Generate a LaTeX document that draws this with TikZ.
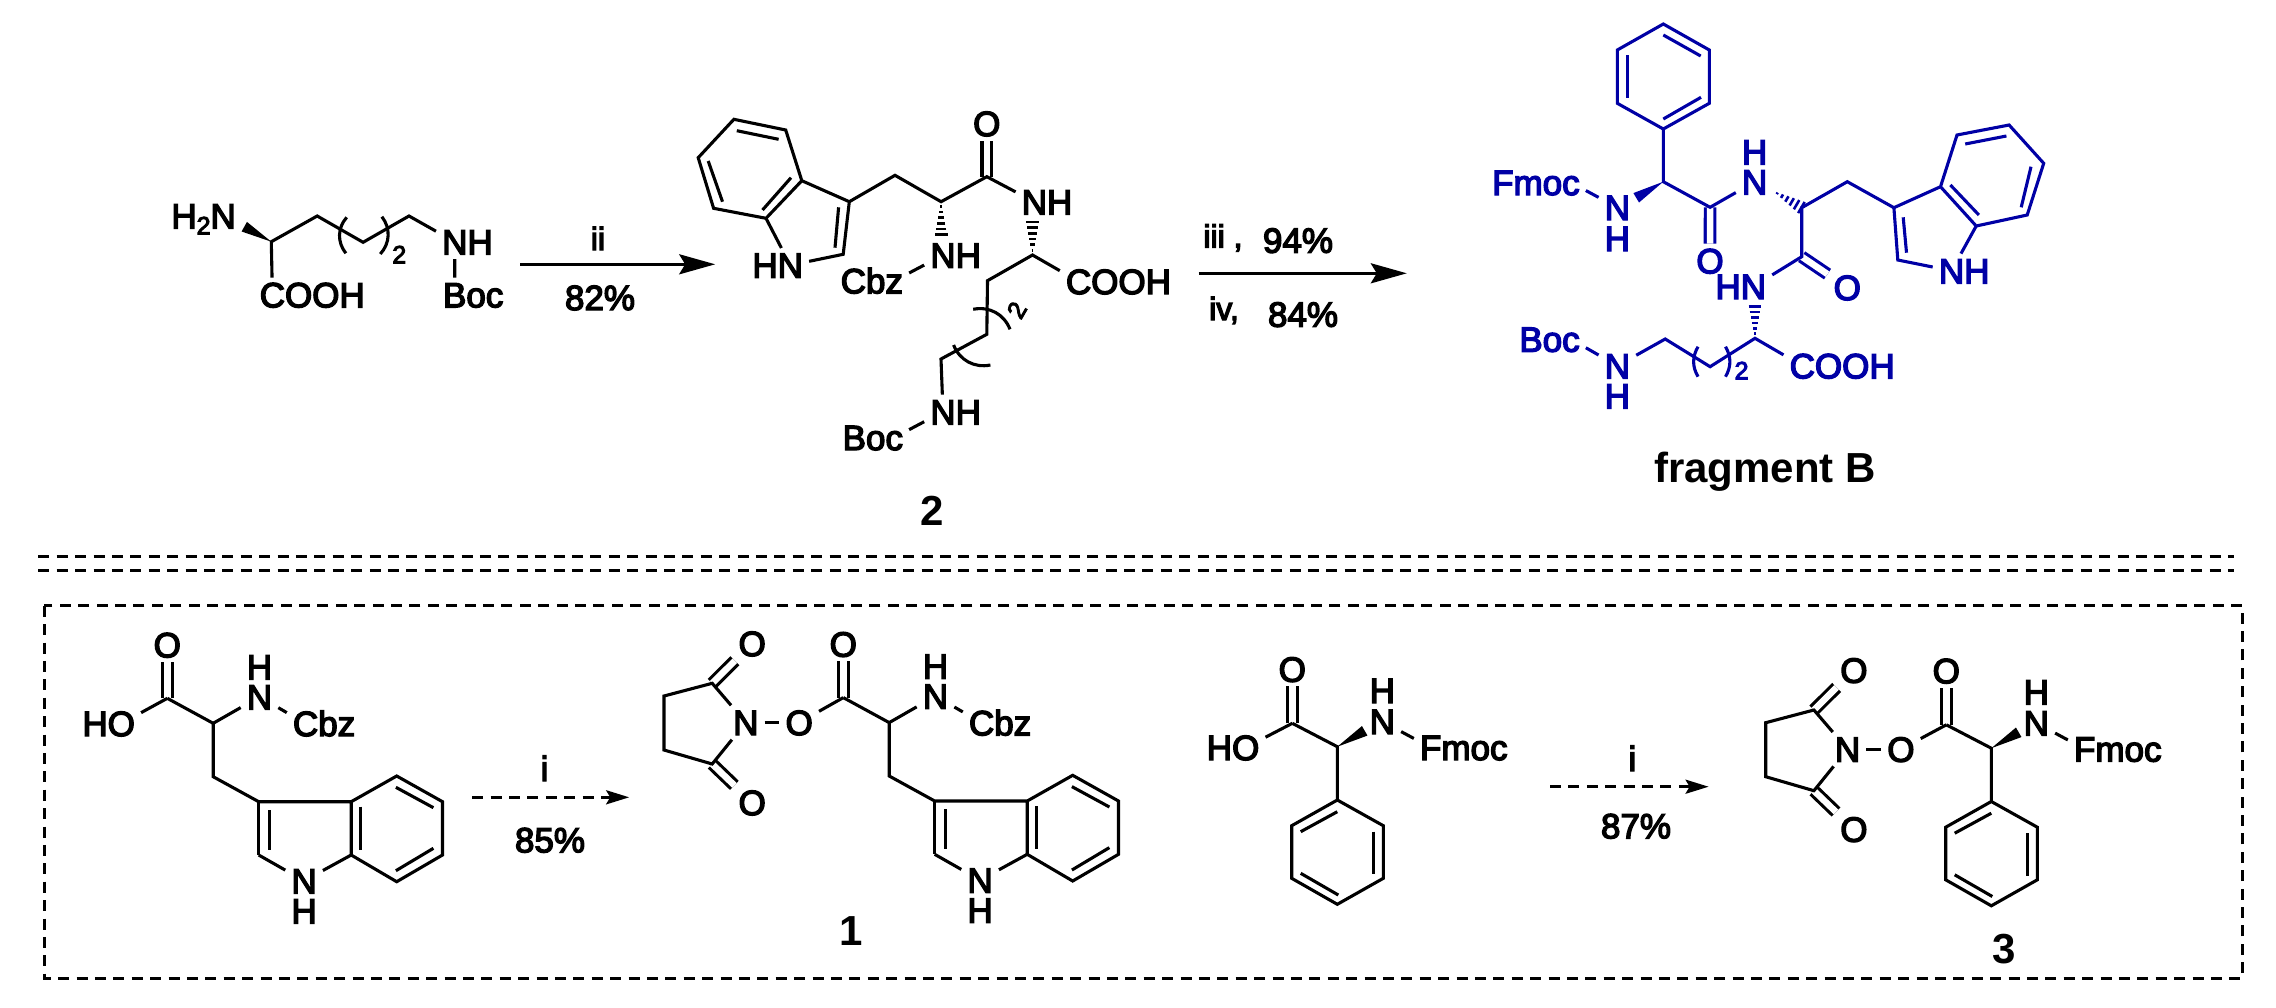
\documentclass[tikz,border=0pt]{standalone}
\usepackage{fontspec}
\setmainfont{Liberation Sans}[UprightFeatures={FakeBold=4}]
\usetikzlibrary{calc,arrows.meta}

\definecolor{fragblue}{RGB}{0,0,165}
\newcommand{\atomfont}{\fontsize{35pt}{40pt}\selectfont}
\newcommand{\reagfont}{\fontsize{32pt}{38pt}\selectfont}
\newcommand{\smallfont}{\fontsize{25pt}{30pt}\selectfont}
\newcommand{\tagfont}{\fontsize{42pt}{48pt}\selectfont\bfseries}
% N with its H stacked above or below
\newcommand{\NHup}[1]{N\llap{\raisebox{#1}{H}}}
\newcommand{\NHdown}[1]{N\llap{\raisebox{-#1}{H}}}

% filled and hashed stereo bonds: narrow end first
\newcommand{\wedgebond}[2]{\fill (#1) -- ($(#2)!5.5pt!90:(#1)$) -- ($(#2)!5.5pt!-90:(#1)$) -- cycle;}
\newcommand{\hashbond}[2]{\foreach \t in {.14,.31,.48,.65,.82,.99}{
    \draw[line width=2.6pt] ($($(#1)!\t!(#2)$)!{\t*6.5pt}!90:(#2)$) -- ($($(#1)!\t!(#2)$)!{\t*6.5pt}!-90:(#2)$);}}

\tikzset{
    bond/.style={line width=3.1pt},
    dbl/.style={line width=3.1pt,double,double distance=6.5pt},
    atom/.style={font=\atomfont,inner xsep=6pt,inner ysep=4.5pt,text height=25pt,text depth=0pt},
    lbl/.style={anchor=base,inner sep=0pt,font=\atomfont},
    reag/.style={anchor=base,inner sep=0pt,font=\reagfont},
    sub/.style={anchor=base,inner sep=0pt,font=\smallfont},
    tag/.style={anchor=base,inner sep=0pt,font=\tagfont},
    rxn/.style={line width=3pt,-{Stealth[length=36pt,width=20pt,inset=6pt]}},
    rxndash/.style={line width=3pt,dash pattern=on 11pt off 7.4pt,-{Stealth[length=23pt,width=14pt,inset=4pt]}},
    sepline/.style={line width=3pt,dash pattern=on 11pt off 7.4pt},
    % Cbz-Trp without its OH
    pics/trpcbz/.style={code={
        \foreach \n/\p in {a/{167.3,698.3},b/{213.2,723.3},c/{213.2,776.7},d/{258.7,801.7},e/{351.2,801.7},
            f/{396.7,776},g/{442.5,801.7},h/{442.5,855},i/{396.7,881.7},j/{351.2,855},k/{258.7,855},
            p1/{269.3,810},p2/{269.3,850},q1/{360.3,806.7},q2/{360.3,850},
            r1/{395.9,787.3},r2/{433.4,807.7},s1/{433.4,848.3},s2/{395.9,870.7}}
            \coordinate (-\n) at (\p);
        \node[atom] (-O) at (167.3,644.8) {O};
        \node[atom] (-Na) at (259.5,696.8) {\NHup{30pt}};
        \node[atom] (-Cbz) at (305.6,723.5) {C\rlap{bz}};
        \node[atom] (-Nb) at (304.1,880.8) {\NHdown{30pt}};
        \draw[dbl] (-a) -- (-O);
        \draw[bond] (-a) -- (-b) -- (-c) -- (-d) -- (-e) -- (-f) -- (-g) -- (-h) -- (-i) -- (-j) -- (-e);
        \draw[bond] (-d) -- (-k);
        \draw[bond] (-k) -- (-Nb);
        \draw[bond] (-j) -- (-Nb);
        \draw[bond] (-b) -- (-Na);
        \draw[bond] (-Na) -- (-Cbz);
        \draw[bond] (-p1) -- (-p2);
        \draw[bond] (-q1) -- (-q2);
        \draw[bond] (-r1) -- (-r2);
        \draw[bond] (-s1) -- (-s2);
    }},
    % Fmoc-phenylglycine without its OH
    pics/fmocpg/.style={code={
        \foreach \n/\p in {a/{1292.3,723.3},b/{1337.3,746.7},c/{1337.3,800},d/{1383.3,825.7},e/{1383.3,878.3},
            f/{1337.3,904.3},g/{1291.7,878.3},h/{1291.7,825.7},w/{1364.7,730.8},
            p1/{1337.3,811.7},p2/{1300.7,831.7},q1/{1373.3,831.7},q2/{1373.3,874},r1/{1300.7,873.3},r2/{1338.3,895}}
            \coordinate (-\n) at (\p);
        \node[atom] (-O) at (1292.3,669.2) {O};
        \node[atom] (-N) at (1382.3,721.5) {\NHup{31pt}};
        \node[atom] (-Fmoc) at (1430.7,747.5) {F\rlap{moc}};
        \draw[dbl] (-a) -- (-O);
        \draw[bond] (-a) -- (-b) -- (-c) -- (-d) -- (-e) -- (-f) -- (-g) -- (-h) -- (-c);
        \wedgebond{-b}{-w}
        \draw[bond] (-N) -- (-Fmoc);
        \draw[bond] (-p1) -- (-p2);
        \draw[bond] (-q1) -- (-q2);
        \draw[bond] (-r1) -- (-r2);
    }},
    % N-oxysuccinimide
    pics/succ/.style={code={
        \foreach \n/\p in {a/{712.2,683.3},b/{664,696},c/{664,750},d/{712.2,764}}
            \coordinate (-\n) at (\p);
        \node[atom] (-N) at (745.8,722.5) {N};
        \node[atom] (-O) at (799.2,722.5) {O};
        \node[atom] (-Oa) at (752.2,643.5) {O};
        \node[atom] (-Ob) at (752.2,802.5) {O};
        \draw[dbl] (-a) -- (-Oa);
        \draw[dbl] (-d) -- (-Ob);
        \draw[bond] (-N) -- (-a) -- (-b) -- (-c) -- (-d) -- (-N);
        \draw[bond] (-N) -- (-O);
    }}
}

\begin{document}
\begin{tikzpicture}[x=1pt,y=-1pt]
    \path[use as bounding box] (0,0) rectangle (2276,1007);

    % starting diamine
    \foreach \n/\p in {ca/{271.3,241.7},cb/{317.2,216},cc/{363.1,242.3},cd/{409,216},we/{244.3,226.7},
        pa/{346.7,217.3},pb/{345.9,253.3},pc/{381.9,216.7},pd/{380.3,254}}
        \coordinate (\n) at (\p);
    \node[atom] (amN) at (223.2,215.8) {\llap{H\raisebox{-6pt}{\smallfont 2}}N};
    \node[atom] (amC) at (272.4,294.8) {C\rlap{OOH}};
    \node[atom] (amNH) at (454.8,241.8) {N\rlap{H}};
    \node[atom] (amB) at (454.7,294.8) {B\rlap{oc}};
    \node[sub] (amtwo) at (399.3,263.3) {2};
    \draw[bond] (amC) -- (ca) -- (cb) -- (cc) -- (cd) -- (amNH);
    \draw[bond] (amNH) -- (amB);
    \wedgebond{ca}{we}
    \draw[bond] (pa) to[bend right=40] (pb);
    \draw[bond] (pc) to[bend left=40] (pd);

    % arrow ii
    \coordinate (ra) at (520,264.3);
    \coordinate (rb) at (715.2,264.3);
    \draw[rxn] (ra) -- (rb);
    \node[reag] (ii) at (598,250) {ii};
    \node[lbl] (yii) at (600,310) {82\%};

    % dipeptide 2
    \foreach \n/\p in {ia/{733.9,119.3},ib/{785.7,130},ic/{801.8,180.7},id/{766,218.3},ie/{713.6,208.3},if/{698.2,157.7},
        ig/{849.3,201.7},ih/{843.2,254.3},ii/{895,175.3},ij/{941.1,201.7},ik/{986.8,176.7},
        il/{1032.5,255},im/{987.5,280.7},in/{986.8,334.3},io/{941,359},
        ha/{941.1,235},hb/{1032.5,221.7},
        sa/{736.8,130.7},sb/{778.6,139.3},sc/{708.2,161},sd/{722.5,201.7},se/{791,177.7},sf/{762.5,210},sg/{838.6,207.3},sh/{835,247.7},
        ua/{973.2,309.3},ub/{1010,329.3},uc/{953.6,345},ud/{990.4,365}}
        \coordinate (\n) at (\p);
    \node[atom] (iN) at (790.3,265.2) {\llap{H}N};
    \node[atom] (dpO) at (986.8,123.5) {O};
    \node[atom] (dpNa) at (1034.4,201.8) {N\rlap{H}};
    \node[atom] (dpNb) at (943,255.2) {N\rlap{H}};
    \node[atom] (dpCbz) at (894.2,280.8) {\llap{Cb}z};
    \node[atom] (dpC) at (1078.6,281.5) {C\rlap{OOH}};
    \node[atom] (dpNc) at (943,411.8) {N\rlap{H}};
    \node[atom] (dpBoc) at (894.2,437.5) {\llap{Bo}c};
    \node[sub,anchor=center,rotate=60] (dptwo) at (1016.7,310) {2};
    \node[tag] (cpdtwo) at (932,525.7) {2};
    \draw[dbl] (ik) -- (dpO);
    \draw[bond] (ia) -- (ib) -- (ic) -- (id) -- (ie) -- (if) -- cycle;
    \draw[bond] (ic) -- (ig) -- (ih) -- (iN);
    \draw[bond] (id) -- (iN);
    \draw[bond] (ig) -- (ii) -- (ij) -- (ik) -- (dpNa);
    \draw[bond] (dpC) -- (il) -- (im) -- (in) -- (io) -- (dpNc);
    \draw[bond] (dpNb) -- (dpCbz);
    \draw[bond] (dpNc) -- (dpBoc);
    \draw[bond] (sa) -- (sb);
    \draw[bond] (sc) -- (sd);
    \draw[bond] (se) -- (sf);
    \draw[bond] (sg) -- (sh);
    \hashbond{ij}{ha}
    \hashbond{il}{hb}
    \draw[bond] (ua) to[bend left=40] (ub);
    \draw[bond] (uc) to[bend right=40] (ud);

    % arrow iii / iv
    \coordinate (rc) at (1198.6,273.3);
    \coordinate (rd) at (1406.8,273.3);
    \draw[rxn] (rc) -- (rd);
    \node[reag] (iii) at (1223,247.5) {iii ,};
    \node[lbl] (yiii) at (1298,252.7) {94\%};
    \node[reag] (iv) at (1224,320) {iv,};
    \node[lbl] (yiv) at (1303,326.7) {84\%};

    % fragment B
    \begin{scope}[color=fragblue]
        \foreach \n/\p in {fa/{1663.3,24},fb/{1709.3,50},fc/{1709.3,103.3},fd/{1663.3,129},fe/{1617.3,103.3},ff/{1617.3,50},
            fq/{1663.3,181.7},fr/{1710.1,207.3},fs/{1801.7,207.7},ft/{1847.3,181.7},fu/{1893.9,207.7},fv/{1801.7,256.7},
            fw/{1755,338.3},fy/{1710.1,366.7},fz/{1665.2,339},
            ga/{1897.8,260},gb/{1940.5,186.7},gc/{1957,135},gd/{2009.1,125},ge/{2043.7,163.3},gf/{2027.2,215},gg/{1976.2,226},
            wa/{1636.2,197.8},wb/{1773.2,191},wc/{1755,306},
            ma/{1663.3,35},mb/{1700.7,56},mc/{1627.3,55},md/{1627.3,98.3},me/{1663.3,119},mf/{1701,97.3},
            mg/{1965.2,144},mh/{2006.4,136},mi/{2031,166.7},mj/{2021.2,207.3},mk/{1950.4,185},ml/{1978.9,215},mm/{1903.2,217.3},mn/{1906.5,252.7},
            ka/{1698,346.7},kb/{1698,376.7},kc/{1725.5,346.7},kd/{1725.5,376.7}}
            \coordinate (\n) at (\p);
        \node[atom] (fFmoc) at (1570.9,182.5) {\llap{Fmo}c};
        \node[atom] (fNa) at (1617.4,207.5) {\NHdown{31pt}};
        \node[atom] (fNb) at (1754.6,181.8) {\NHup{30pt}};
        \node[atom] (fOa) at (1710,260.8) {O};
        \node[atom] (fOb) at (1847.3,287.5) {O};
        \node[atom] (fNc) at (1753.4,286.5) {\llap{H}N};
        \node[atom] (fNd) at (1951.5,270.8) {N\rlap{H}};
        \node[atom] (fC) at (1802.3,365.8) {C\rlap{OOH}};
        \node[atom] (fBoc) at (1570.9,339.2) {\llap{Bo}c};
        \node[atom] (fNe) at (1617.4,365.8) {\NHdown{30pt}};
        \node[sub] (ftwo) at (1741.6,379.3) {2};
        \draw[dbl] (fr) -- (fOa);
        \draw[dbl] (fv) -- (fOb);
        \draw[bond] (fa) -- (fb) -- (fc) -- (fd) -- (fe) -- (ff) -- cycle;
        \draw[bond] (fd) -- (fq) -- (fr) -- (fNb);
        \draw[bond] (fFmoc) -- (fNa);
        \wedgebond{fq}{wa}
        \hashbond{wb}{fs}
        \draw[bond] (fu) -- (ft) -- (fs) -- (fv) -- (fNc);
        \draw[bond] (fu) -- (gb) -- (gc) -- (gd) -- (ge) -- (gf) -- (gg) -- (gb);
        \draw[bond] (fu) -- (ga) -- (fNd);
        \draw[bond] (gg) -- (fNd);
        \hashbond{fw}{wc}
        \draw[bond] (fC) -- (fw) -- (fy) -- (fz) -- (fNe);
        \draw[bond] (fBoc) -- (fNe);
        \draw[bond] (ma) -- (mb);
        \draw[bond] (mc) -- (md);
        \draw[bond] (me) -- (mf);
        \draw[bond] (mg) -- (mh);
        \draw[bond] (mi) -- (mj);
        \draw[bond] (mk) -- (ml);
        \draw[bond] (mm) -- (mn);
        \draw[bond] (ka) to[bend right=30] (kb);
        \draw[bond] (kc) to[bend left=30] (kd);
    \end{scope}
    \node[tag] (fname) at (1765,482.3) {fragment B};

    % separators and frame
    \coordinate (la) at (38.3,556);
    \coordinate (lb) at (2234,556);
    \coordinate (lc) at (38.3,570);
    \coordinate (ld) at (2234,570);
    \coordinate (boxa) at (44.3,605.7);
    \coordinate (boxb) at (2242.5,978.3);
    \draw[sepline] (la) -- (lb);
    \draw[sepline] (lc) -- (ld);
    \draw[sepline] (boxa) rectangle (boxb);

    % Cbz-Trp acid to 1
    \pic (tra) at (0,0) {trpcbz};
    \node[atom] (traOH) at (121.3,723.5) {\llap{H}O};
    \draw[bond] (tra-a) -- (traOH);
    \coordinate (re) at (472.2,797.3);
    \coordinate (rf) at (629.2,797.3);
    \draw[rxndash] (re) -- (rf);
    \node[lbl] (ia) at (544.5,781) {i};
    \node[lbl] (yia) at (550,852.3) {85\%};
    \pic (trb) at (676,-0.7) {trpcbz};
    \pic (sua) at (0,0) {succ};
    \draw[bond] (sua-O) -- (trb-a);
    \node[tag] (cpdone) at (851.4,945) {1};

    % Fmoc acid to 3
    \pic (pga) at (0,0) {fmocpg};
    \node[atom] (pgaOH) at (1245.7,747.5) {\llap{H}O};
    \draw[bond] (pga-a) -- (pgaOH);
    \coordinate (rg) at (1550,786.7);
    \coordinate (rh) at (1708.6,786.7);
    \draw[rxndash] (rg) -- (rh);
    \node[lbl] (ib) at (1632.3,771) {i};
    \node[lbl] (yib) at (1636,838.3) {87\%};
    \pic (pgb) at (654,1.5) {fmocpg};
    \pic (sub) at (1101.7,26.7) {succ};
    \draw[bond] (sub-O) -- (pgb-a);
    \node[tag] (cpdthree) at (2004.4,963.3) {3};
\end{tikzpicture}
\end{document}
